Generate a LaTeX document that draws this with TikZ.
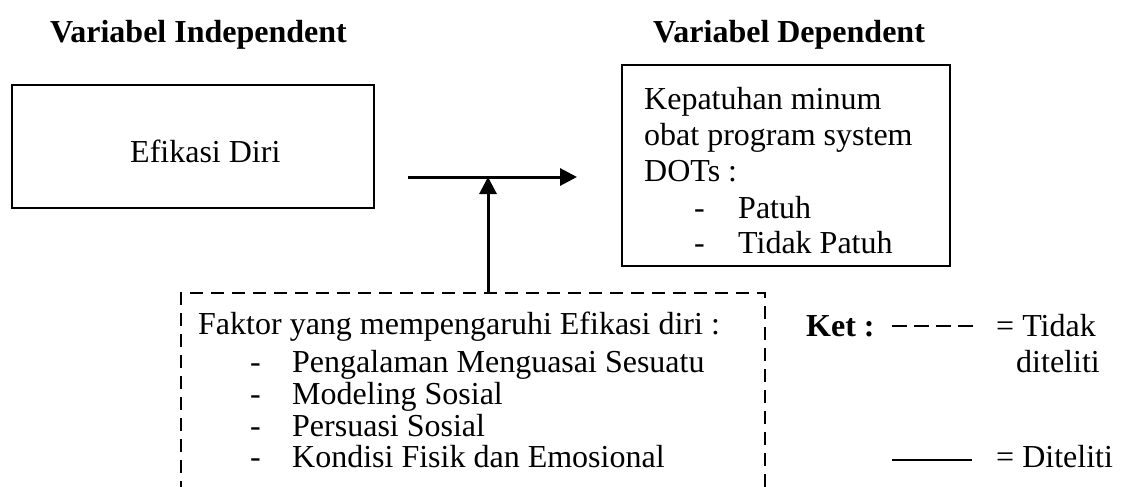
\documentclass[tikz,border=0pt]{standalone}
\usepackage{fontspec}
\setmainfont{Liberation Serif}
\usetikzlibrary{arrows.meta}
\begin{document}
\begin{tikzpicture}[x=1pt,y=-1pt,
  txt/.style={anchor=base west, inner sep=0pt, font=\fontsize{32}{36}\selectfont},
  hdr/.style={anchor=base west, inner sep=0pt, font=\fontsize{32}{36}\selectfont\bfseries},
  box/.style={draw, line width=2pt, inner sep=0pt, anchor=north west},
  dbox/.style={draw, line width=2pt, inner sep=0pt, anchor=north west, dash pattern=on 13pt off 8pt},
  arr/.style={line width=3pt, -{Triangle[length=17pt,width=17pt]}},
  legdash/.style={line width=2pt, dash pattern=on 15pt off 7pt},
  legline/.style={line width=1.6pt},
]
\useasboundingbox (0,0) rectangle (1122,487);
\clip (0,0) rectangle (1122,487);

% headers
\node[hdr] (h1) at (50,43) {Variabel Independent};
\node[hdr] (h2) at (653,43) {Variabel Dependent};

% left box
\node[box, minimum width=362pt, minimum height=123pt] (efikasi) at (11,84) {};
\node[txt] (efikasiT) at (130,162) {Efikasi Diri};

% right box
\node[box, minimum width=328pt, minimum height=201pt] (patuh) at (621,64) {};
\node[txt] (p1) at (644,109) {Kepatuhan minum};
\node[txt] (p2) at (644,145) {obat program system};
\node[txt] (p3) at (644,181) {DOTs :};
\node[txt] (p4d) at (694,218) {-};
\node[txt] (p4) at (738,218) {Patuh};
\node[txt] (p5d) at (694,253) {-};
\node[txt] (p5) at (738,253) {Tidak Patuh};

% dashed box
\node[dbox, minimum width=584pt, minimum height=240pt] (faktor) at (180,292) {};
\node[txt] (f0) at (198,334) {Faktor yang mempengaruhi Efikasi diri :};
\node[txt] (f1d) at (250,372) {-};
\node[txt] (f1) at (292,372) {Pengalaman Menguasai Sesuatu};
\node[txt] (f2d) at (250,404) {-};
\node[txt] (f2) at (292,404) {Modeling Sosial};
\node[txt] (f3d) at (250,436) {-};
\node[txt] (f3) at (292,436) {Persuasi Sosial};
\node[txt] (f4d) at (250,467) {-};
\node[txt] (f4) at (292,467) {Kondisi Fisik dan Emosional};

% arrows
\coordinate (hs) at (408,177);
\coordinate (he) at (577,177);
\coordinate (tip) at (488,177);
\draw[arr] (hs) -- (he);
\draw[arr] (tip |- faktor.north) -- (tip);

% legend
\node[hdr] (ket) at (806,336) {Ket :};
\coordinate (la) at (892,326);
\coordinate (lb) at (973,326);
\draw[legdash] (la) -- (lb);
\node[txt] (tidak) at (996,336) {= Tidak};
\node[txt] (tidak2) at (1016,372) {diteliti};
\coordinate (lc) at (892,460);
\coordinate (ld) at (972,460);
\draw[legline] (lc) -- (ld);
\node[txt] (dit) at (996,467) {= Diteliti};
\end{tikzpicture}
\end{document}
